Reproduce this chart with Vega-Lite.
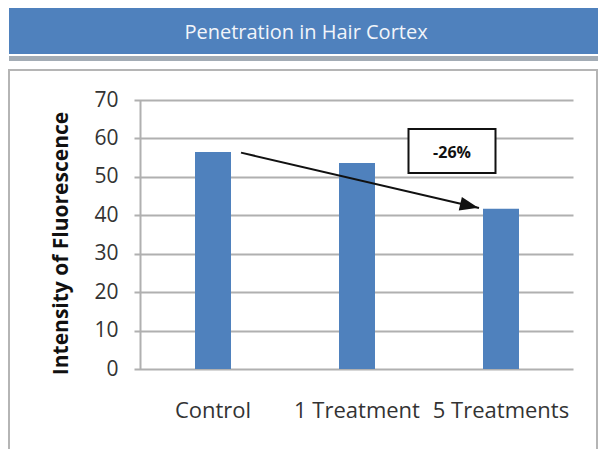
{
  "$schema": "https://vega.github.io/schema/vega-lite/v6.json",
  "padding": {"left": 8, "top": 8, "right": 0, "bottom": 0},
  "background": "white",
  "spacing": 8,
  "datasets": {
    "bars": [
      {"group": "Control", "value": 56.5},
      {"group": "1 Treatment", "value": 53.6},
      {"group": "5 Treatments", "value": 41.7}
    ],
    "note": [
      {"from": "Control", "to": "5 Treatments", "start": 56.3, "end": 41.9, "head": 42.47, "boxY": 56.73, "labelY": 56.2, "label": "-26%"}
    ]
  },
  "vconcat": [
    {
      "spacing": 2,
      "vconcat": [
        {
          "width": 590,
          "height": 46,
          "view": {"fill": "#4f81bd", "stroke": null},
          "data": {"values": [{"t": "Penetration in Hair Cortex"}]},
          "mark": {"type": "text", "font": "Open Sans", "fontSize": 20, "color": "#f2f5fa", "baseline": "middle", "dy": 2, "dx": 2},
          "encoding": {"text": {"field": "t", "type": "nominal"}}
        },
        {
          "width": 590,
          "height": 5,
          "view": {"fill": "#a3acb5", "stroke": null},
          "data": {"values": []},
          "mark": "point",
          "encoding": {}
        }
      ]
    },
    {
      "width": 588,
      "height": 381,
      "view": {"fill": "white", "stroke": "#b5b5b5", "strokeWidth": 2},
      "layer": [
        {
          "data": {"name": "bars"},
          "mark": {"type": "bar", "color": "#4f81bd"},
          "encoding": {
            "x": {
              "field": "group", "type": "nominal",
              "scale": {"domain": ["Control", "1 Treatment", "5 Treatments"], "range": [132, 564], "paddingInner": 0.75, "paddingOuter": 0.375},
              "axis": {"title": null, "orient": "bottom", "offset": -82, "domain": false, "ticks": false, "labelAngle": 0, "labelPadding": 31, "labelFont": "Open Sans", "labelFontSize": 22, "labelColor": "#333333"}
            },
            "y": {
              "field": "value", "type": "quantitative",
              "scale": {"domain": [0, 70], "range": [299, 30], "nice": false, "zero": true},
              "axis": {"orient": "left", "offset": -564, "values": [0, 10, 20, 30, 40, 50, 60, 70], "domain": false, "grid": false, "ticks": true, "tickSize": 439, "tickColor": "#b0b0b0", "tickWidth": 2, "labels": false, "title": null}
            }
          }
        },
        {
          "data": {"name": "note"},
          "mark": {"type": "rule", "color": "#111111", "strokeWidth": 2, "xOffset": 28, "x2Offset": -22},
          "encoding": {
            "x": {"field": "from", "type": "nominal"},
            "x2": {"field": "to"},
            "y": {"field": "start", "type": "quantitative",
              "axis": {"orient": "left", "offset": -131, "values": [0, 10, 20, 30, 40, 50, 60, 70], "domain": true, "domainColor": "#b0b0b0", "domainWidth": 2, "ticks": false, "grid": false, "labelPadding": 22, "labelFont": "Open Sans", "labelFontSize": 21, "labelColor": "#333333", "title": "Intensity of Fluorescence", "titleFont": "Open Sans", "titleFontSize": 21, "titleFontWeight": "bold", "titleColor": "#111111", "titlePadding": 22, "titleY": 173}},
            "y2": {"field": "end"}
          }
        },
        {
          "data": {"name": "note"},
          "mark": {"type": "point", "shape": "M1,0L-1,-0.75L-1,0.75Z", "size": 340, "angle": 13, "filled": true, "color": "#111111", "opacity": 1, "xOffset": -31.7},
          "encoding": {
            "x": {"field": "to", "type": "nominal"},
            "y": {"field": "head", "type": "quantitative", "axis": null}
          }
        },
        {
          "data": {"name": "note"},
          "mark": {"type": "point", "shape": "M-1,-0.506H1V0.506H-1Z", "size": 7569, "filled": false, "fill": "white", "fillOpacity": 1, "stroke": "#111111", "strokeWidth": 2, "opacity": 1, "xOffset": -49},
          "encoding": {
            "x": {"field": "to", "type": "nominal"},
            "y": {"field": "boxY", "type": "quantitative", "axis": null}
          }
        },
        {
          "data": {"name": "note"},
          "mark": {"type": "text", "font": "Open Sans", "fontSize": 16, "fontWeight": "bold", "color": "#111111", "baseline": "middle", "xOffset": -49},
          "encoding": {
            "x": {"field": "to", "type": "nominal"},
            "y": {"field": "labelY", "type": "quantitative", "axis": null},
            "text": {"field": "label", "type": "nominal"}
          }
        }
      ],
      "resolve": {"axis": {"y": "independent"}}
    }
  ]
}
